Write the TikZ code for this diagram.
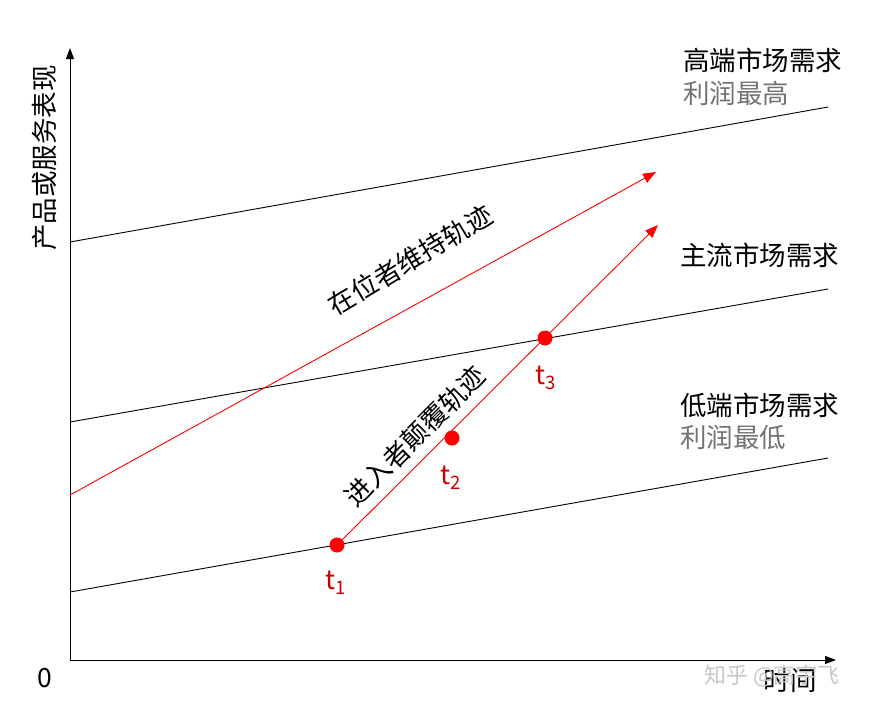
\documentclass[tikz,border=0pt]{standalone}
\usepackage{fontspec}
\setmainfont{Noto Sans CJK SC}
\usetikzlibrary{arrows.meta}
\begin{document}
\begin{tikzpicture}[x=1pt,y=-1pt,
  demand/.style={draw=black,line width=0.9pt},
  axis/.style={draw=black,line width=1pt,-{Triangle[length=11pt,width=8pt]}},
  traj/.style={draw=red,line width=0.9pt,-{Triangle[length=13pt,width=10pt]}},
  dot/.style={circle,fill=red,inner sep=0pt,minimum size=15pt},
  txt/.style={font=\fontsize{26.5pt}{30pt}\selectfont,inner sep=0pt},
  redtxt/.style={txt,text=red!80!black},
  graytxt/.style={txt,text=black!55}]
\useasboundingbox (0,0) rectangle (874,705);
% axes
\coordinate (O) at (70,660);
\coordinate (ytop) at (70,48);
\coordinate (xend) at (836,660);
\draw[axis] (O) -- (ytop);
\draw[axis] (O) -- (xend);
% demand lines
\coordinate (h1) at (70,242); \coordinate (h2) at (828,107);
\coordinate (m1) at (70,422); \coordinate (m2) at (828,289);
\coordinate (l1) at (70,592); \coordinate (l2) at (828,458);
\draw[demand] (h1) -- (h2);
\draw[demand] (m1) -- (m2);
\draw[demand] (l1) -- (l2);
% incumbent trajectory
\coordinate (a1) at (70,495); \coordinate (a2) at (656,172);
\draw[traj] (a1) -- (a2);
% entrant trajectory
\node[dot] (t1) at (337,545) {};
\node[dot] (t2) at (452,438) {};
\node[dot] (t3) at (545,338) {};
\coordinate (b2) at (658,225);
\draw[traj] (t1.center) -- (b2);
% labels
\node[txt,anchor=base west] (hi) at (683,70) {高端市场需求};
\node[graytxt,anchor=base west] (hip) at (683,103) {利润最高};
\node[txt,anchor=base west] (main) at (680,265) {主流市场需求};
\node[txt,anchor=base west] (lo) at (680,415) {低端市场需求};
\node[graytxt,anchor=base west] (lop) at (680,447) {利润最低};
\node[txt,rotate=90] (ylab) at (45,158) {产品或服务表现};
\node[txt] (zero) at (45,678) {0};
\node[txt] (time) at (790,680) {时间};
\node[txt,rotate=31] (inc) at (410,260) {在位者维持轨迹};
\node[txt,rotate=45] (ent) at (415,436) {进入者颠覆轨迹};
\node[redtxt] (lt1) at (336,583) {t\textsubscript{1}};
\node[redtxt] (lt2) at (451,478) {t\textsubscript{2}};
\node[redtxt] (lt3) at (546,378) {t\textsubscript{3}};
\node[txt,text=black!22,font=\fontsize{22pt}{26pt}\selectfont] (wm) at (772,676) {知乎 @高宇飞};
\end{tikzpicture}
\end{document}
